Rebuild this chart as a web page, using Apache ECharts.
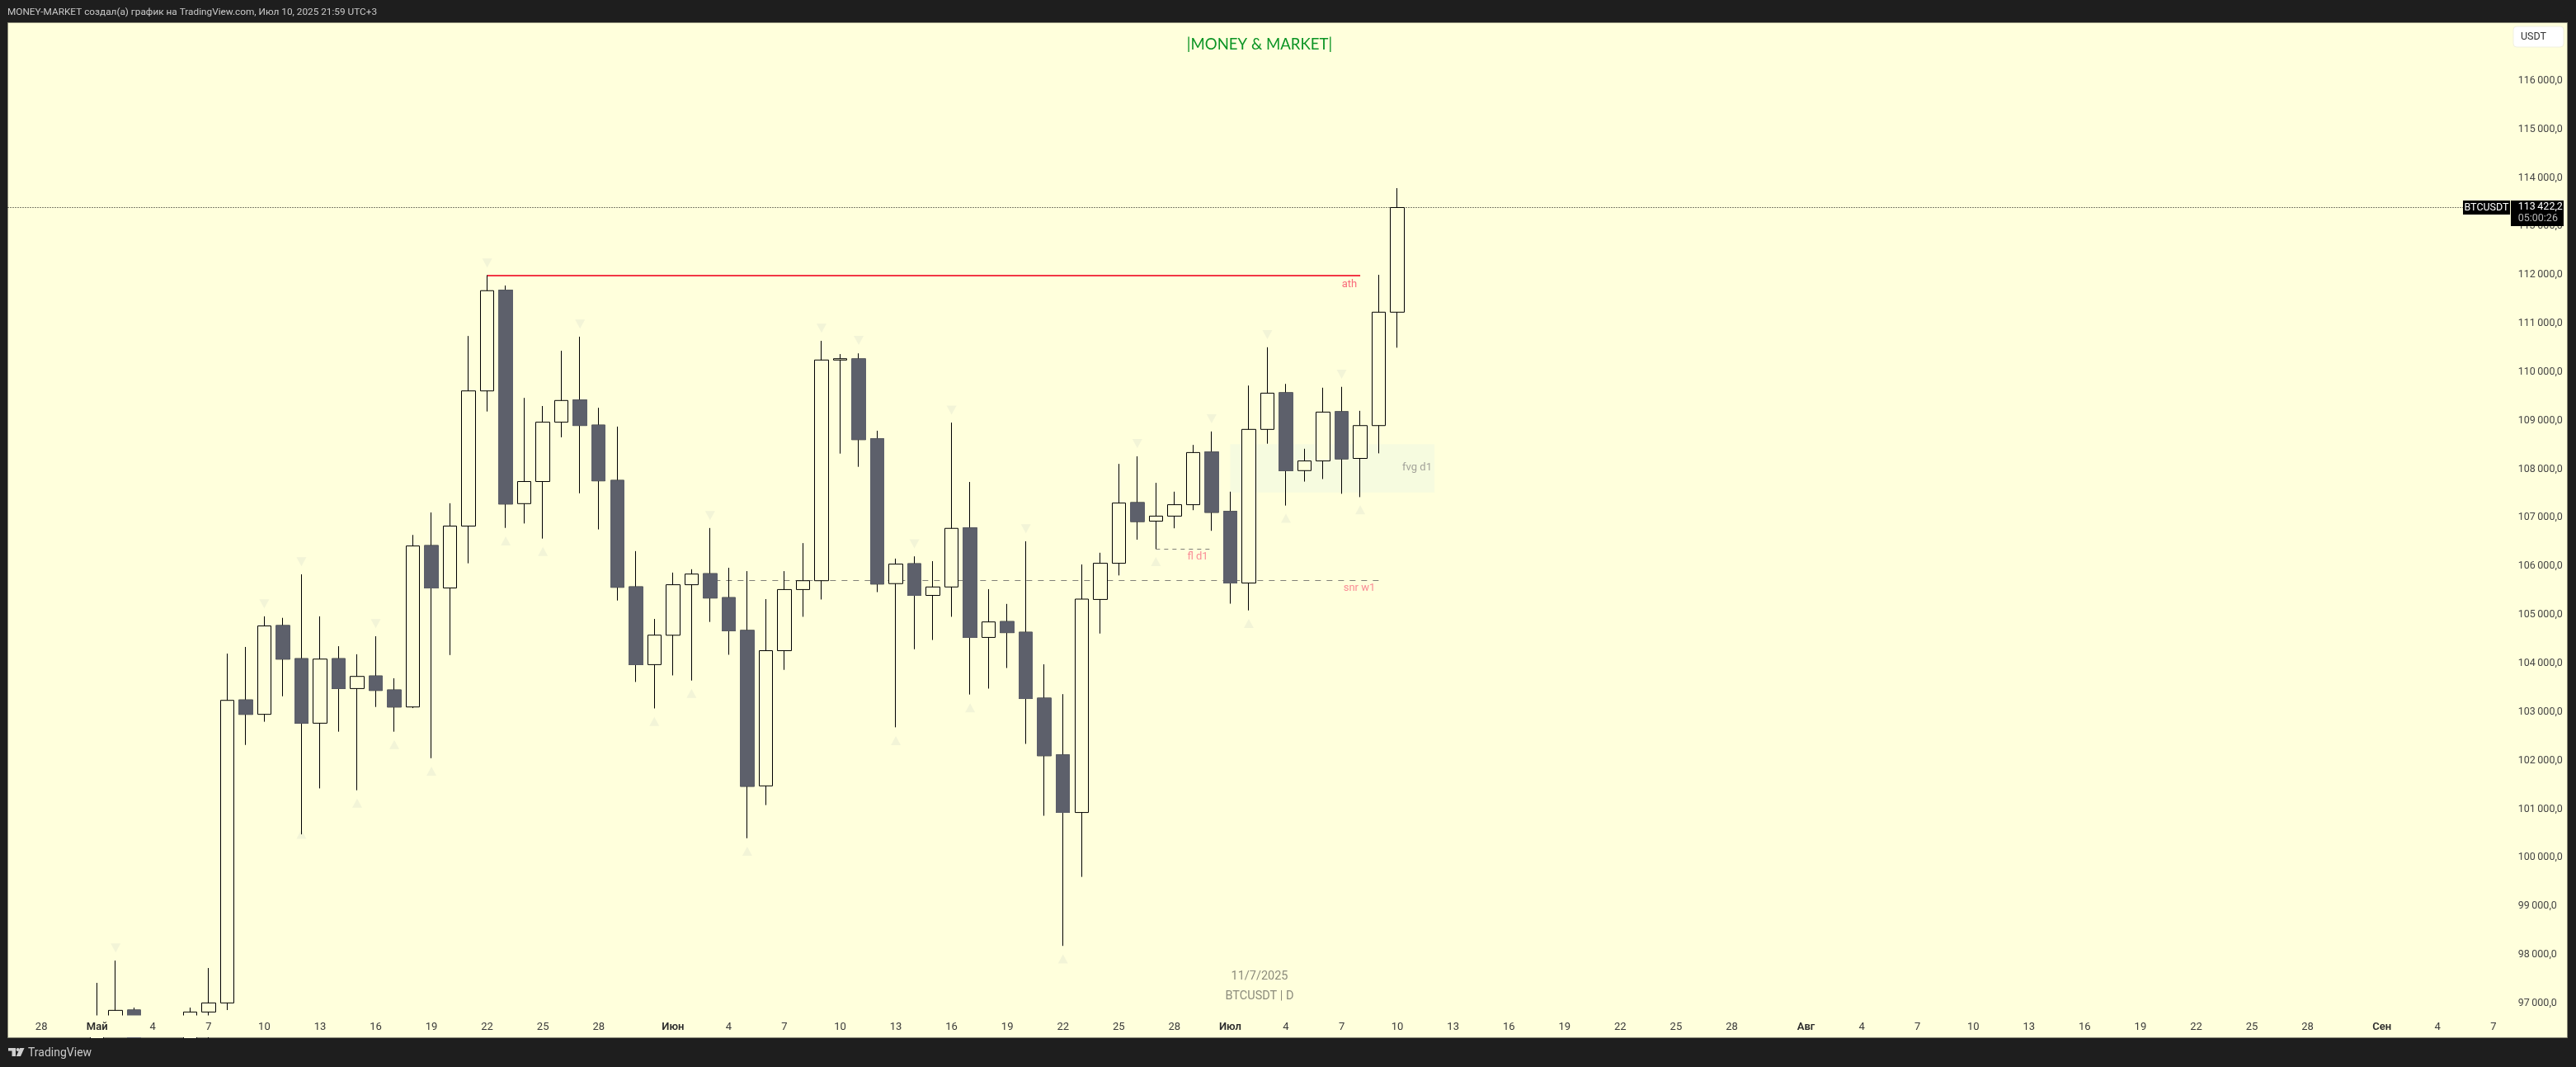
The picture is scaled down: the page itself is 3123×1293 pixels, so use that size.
<!DOCTYPE html>
<html><head><meta charset="utf-8">
<style>html,body{margin:0;padding:0;background:#1e1e1e}#c{width:3123px;height:1293px}</style>
<script src="https://cdn.jsdelivr.net/npm/echarts@6/dist/echarts.min.js"></script>
</head><body><div id="c"></div><script>
// ---- data ----
const monthRanges = [['04',27,30],['05',1,31],['06',1,30],['07',1,31],['08',1,31],['09',1,10]];
const monthNames = {'05':'Май','06':'Июн','07':'Июл','08':'Авг','09':'Сен'};
const tickDays = [1,4,7,10,13,16,19,22,25,28];
const firstBar = '05-01';
const opens = [94172,96489,96862,95856,94277,94731,96822,97009,103247,102951,104779,104097,102769,104097,103482,103740,103452,103103,106426,105553,106828,109611,111682,107290,107745,108967,109422,108906,107768,105576,
 103975,104580,105620,105847,105354,104679,101478,104262,105521,105703,110247,110270,108624,105643,106052,105400,105574,106788,104535,104861,104641,103284,102115,100930,105317,106062,107311,106929,107033,107268,108351,107129,105655,108819,109573,107970,108169,109183,108221,108897,111232];
const highs = [97422,97881,96913,96300,95950,96913,97728,104202,104339,104969,104938,105834,104969,104354,104188,104559,103694,106645,107108,107298,110742,111994,111781,109467,109300,110438,110727,109263,108876,106312,
 104916,105870,105939,106788,105969,105900,105324,105900,106477,110642,110369,110384,108791,106158,106204,106105,108958,107736,105529,105225,106515,103981,103367,106037,106279,108108,108264,107718,107536,108499,108776,107536,109721,110510,109755,108420,109677,109695,109201,112002,113786];
const lows = [94100,96350,95700,94200,93500,93400,95800,96862,102321,102799,103323,100480,101426,102594,101388,103103,102594,103080,102048,104172,106061,109187,106790,106881,106570,108656,107503,106759,105295,103618,
 103073,103753,103647,104854,104178,100400,101083,103867,104960,105316,108320,108048,105468,102684,104292,104482,104960,103359,103481,103905,102343,100863,98183,99604,104615,105811,106548,106357,106782,107155,106730,105230,105091,108524,107250,107744,107796,107493,107424,108325,110501];
const closes = [96489,96856,95856,94277,94731,96822,97009,103239,102951,104772,104089,102769,104089,103482,103732,103444,103103,106418,105553,106828,109611,111675,107283,107745,108967,109414,108899,107760,105568,103975,
 104582,105620,105840,105347,104672,101470,104262,105521,105703,110247,110274,108609,105635,106045,105400,105574,106781,104535,104854,104634,103276,102100,100932,105324,106062,107302,106921,107033,107268,108342,107111,105655,108819,109565,107970,108169,109175,108212,108897,111232,113387];
const fractalHighs = [['05-02',98142],['05-10',105227],['05-12',106091],['05-16',104817],['05-22',112244],['05-27',110985],['06-03',107046],['06-09',110900],['06-11',110649],['06-14',106462],['06-16',109216],['06-20',106773],['06-26',108525],['06-30',109036],['07-03',110770],['07-07',109955]];
const fractalLows = [['05-12',100480],['05-15',101123],['05-17',102329],['05-19',101783],['05-23',106524],['05-25',106304],['05-31',102807],['06-02',103382],['06-05',100135],['06-13',102411],['06-17',103086],['06-22',97914],['06-27',106097],['07-02',104823],['07-04',106990],['07-08',107163]];
const priceTicks = [97000,98000,99000,100000,101000,102000,103000,104000,105000,106000,107000,108000,109000,110000,111000,112000,113000,114000,115000,116000];
const lastPriceLine = 113387;
const lastPriceText = '113\u2009422,2';
const athLevel = [ '05-22','07-08',111994 ];
const snrLevel = [ '06-02','07-09',105703 ];
const flLevel = [ '06-27','06-30',106357 ];
const fvgZone = [ '07-01','07-12',108515,107519 ];

// ---- derived ----
const cats = [];
monthRanges.forEach(([m,a,b])=>{for(let d=a;d<=b;d++)cats.push(m+'-'+String(d).padStart(2,'0'));});
const tickMap = {'04-28':'28'};
Object.keys(monthNames).forEach(m=>tickDays.forEach(d=>{
  const k=m+'-'+String(d).padStart(2,'0');
  tickMap[k]= d===1?monthNames[m]:String(d);
}));
['09-10','09-13','09-16'].forEach(k=>delete tickMap[k]);
const start = cats.indexOf(firstBar);
const blank = ['-','-','-','-'];
const candle = cats.map((c,i)=>{const j=i-start;return (j>=0&&j<opens.length)?[opens[j],closes[j],lows[j],highs[j]]:blank;});
const downBody = cats.map((c,i)=>{const j=i-start;return (j>=0&&j<opens.length&&closes[j]<opens[j])?[opens[j],closes[j],closes[j],opens[j]]:blank;});

const PANE='#ffffdc', FRAME='#1e1e1e', FONT='Roboto, "Open Sans", sans-serif', DOWN='#5d606b';
const bandW=22.52, gridLeft=117.7-4*bandW-bandW/2, gridRight=gridLeft+bandW*cats.length;
const txt=(text,x,y,size,fill,align,extra)=>Object.assign({type:'text',z:120,silent:true,x,y,style:{text,fill,font:size+'px '+FONT,textAlign:align||'left',textVerticalAlign:'middle'}},extra||{});

const option={
 animation:false,
 backgroundColor:FRAME,
 grid:{left:gridLeft,top:27.5,width:bandW*cats.length,height:1202.5,containLabel:false,outerBoundsMode:'none'},
 xAxis:{type:'category',data:cats,boundaryGap:true,z:6,axisLine:{show:false},axisTick:{show:false},splitLine:{show:false},
  axisLabel:{interval:(i,v)=>v in tickMap,formatter:v=>{const t=tickMap[v]||'';return isNaN(+t)?'{m|'+t+'}':t;},
   color:'#3a3a3a',fontFamily:FONT,fontSize:13,margin:8,hideOverlap:false,rich:{m:{fontFamily:FONT,fontSize:13,fontWeight:600,color:'#2a2a2a'}}}},
 yAxis:{type:'value',position:'right',min:96760,max:117193,axisLine:{show:false},axisTick:{show:false},splitLine:{show:false},
  axisLabel:{inside:true,margin:gridRight-3052.7,align:'left',customValues:priceTicks,color:'#454545',fontFamily:FONT,fontSize:12.5,
   formatter:v=>Math.floor(v/1000)+'\u2009000,0'}},
 graphic:{elements:[
  {type:'rect',z:-10,silent:true,shape:{x:9.5,y:27.5,width:3103,height:1230},style:{fill:PANE,stroke:'#8b8b78',lineWidth:1}},
  {type:'rect',z:5,silent:true,shape:{x:10,y:1230.5,width:3102,height:26.5},style:{fill:PANE}},
  {type:'rect',z:5,silent:true,shape:{x:0,y:1258,width:3123,height:35},style:{fill:FRAME}},
  txt('MONEY-MARKET создал(а) график на TradingView.com, Июл 10, 2025 21:59 UTC+3',9,15,11.8,'#c9c9c9'),
  {type:'text',z:120,silent:true,x:1527,y:54,scaleX:0.93,style:{text:'|MONEY & MARKET|',fill:'#0b9424',font:'20px Lato, sans-serif',textAlign:'center',textVerticalAlign:'middle'}},
  txt('11/7/2025',1527,1183,14.5,'#8c8c7c','center'),
  txt('BTCUSDT | D',1527,1207,14.5,'#8c8c7c','center'),
  txt('ath',1636,345,13,'#fa6d7c','center'),
  txt('fl d1',1452,675,13,'#fa8d96','center'),
  txt('snr w1',1648,713,13,'#fa8d96','center'),
  txt('fvg d1',1718,567,13,'#a3a39a','center'),
  {type:'rect',z:110,silent:true,shape:{x:3047,y:32,width:61,height:25,r:4},style:{fill:'#ffffff',stroke:'#f0f0e0',lineWidth:1}},
  txt('USDT',3056,44.5,12.5,'#333333'),
  {type:'rect',z:110,silent:true,shape:{x:2986,y:243,width:57,height:17},style:{fill:'#000000'}},
  {type:'rect',z:110,silent:true,shape:{x:3044,y:243,width:64,height:31},style:{fill:'#000000'}},
  txt('BTCUSDT',3014.5,251.5,12.5,'#ffffff','center'),
  txt(lastPriceText,3052.7,251,12.5,'#ffffff'),
  txt('05:00:26',3052.7,265,12.5,'#b8b8b8'),
  {type:'rect',z:120,silent:true,shape:{x:10,y:1270,width:9,height:3.5},style:{fill:'#cfcfcf'}},
  {type:'rect',z:120,silent:true,shape:{x:14.5,y:1270,width:4.5,height:10},style:{fill:'#cfcfcf'}},
  {type:'circle',z:120,silent:true,shape:{cx:21.7,cy:1272,r:2.1},style:{fill:'#cfcfcf'}},
  {type:'polygon',z:120,silent:true,shape:{points:[[24.2,1270],[29.5,1270],[25,1280],[19.7,1280]]},style:{fill:'#cfcfcf'}},
  txt('TradingView',34,1276,14,'#c9c9c9')
 ]},
 series:[
  {type:'candlestick',name:'BTCUSDT',data:candle,barWidth:17,z:3,silent:true,
   itemStyle:{color:PANE,color0:DOWN,borderColor:'#000000',borderColor0:'#000000',borderColorDoji:'#000000',borderWidth:1},
   markArea:{silent:true,z:1,itemStyle:{color:'#f6fbdf'},label:{show:false},
    data:[[{xAxis:fvgZone[0],yAxis:fvgZone[2]},{xAxis:fvgZone[1],yAxis:fvgZone[3]}]]},
   markLine:{silent:true,z:1,symbol:'none',animation:false,label:{show:false},data:[
    [{xAxis:athLevel[0],yAxis:athLevel[2],lineStyle:{color:'#f23645',width:2,type:'solid'}},{xAxis:athLevel[1],yAxis:athLevel[2]}],
    [{xAxis:snrLevel[0],yAxis:snrLevel[2],lineStyle:{color:'#808078',width:1,type:[7,7]}},{xAxis:snrLevel[1],yAxis:snrLevel[2]}],
    [{xAxis:flLevel[0],yAxis:flLevel[2],lineStyle:{color:'#808078',width:1,type:[5,5]}},{xAxis:flLevel[1],yAxis:flLevel[2]}],
    [{x:9.5,yAxis:lastPriceLine,lineStyle:{color:'#000000',width:1,type:[1,2]}},{x:2986,yAxis:lastPriceLine}]
   ]}},
  {type:'candlestick',name:'down bodies',data:downBody,barWidth:17,z:4,silent:true,
   itemStyle:{color:DOWN,color0:DOWN,borderColor:DOWN,borderColor0:DOWN,borderColorDoji:DOWN,borderWidth:1}},
  {type:'scatter',name:'fractal highs',data:fractalHighs,symbol:'triangle',symbolSize:[12,11],symbolRotate:180,z:2,silent:true,itemStyle:{color:'#eff1d6'}},
  {type:'scatter',name:'fractal lows',data:fractalLows,symbol:'triangle',symbolSize:[12,11],z:2,silent:true,itemStyle:{color:'#eff1d6'}}
 ]
};
echarts.init(document.getElementById('c'),null,{renderer:'canvas',width:3123,height:1293}).setOption(option);
</script></body></html>
